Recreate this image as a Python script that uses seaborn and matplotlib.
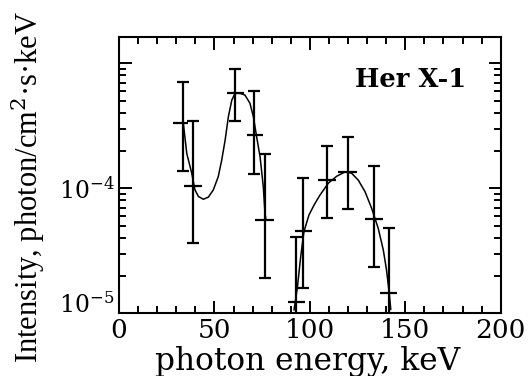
import numpy as np
import pandas as pd
import matplotlib
matplotlib.use("Agg")
import matplotlib.pyplot as plt
import seaborn as sns
from matplotlib.ticker import FixedLocator, MultipleLocator, LogLocator, NullFormatter

# ---- data ----
energy = [33.4, 38.6, 60.8, 70.7, 76.5, 92.7, 96.4, 109.0, 119.8, 133.5, 141.3]
e_lo = [28.5, 34.1, 56.4, 66.9, 71.3, 88.3, 92.0, 104.3, 114.5, 128.8, 136.6]
e_hi = [36.3, 43.3, 65.5, 75.6, 81.3, 97.6, 101.1, 113.9, 124.7, 138.2, 145.7]
intensity = [3.35e-4, 1.04e-4, 5.82e-4, 2.67e-4, 5.57e-5, 1.22e-5, 4.55e-5, 1.165e-4, 1.34e-4, 5.68e-5, 1.445e-5]
i_hi = [7.13e-4, 3.47e-4, 8.95e-4, 6.04e-4, 1.87e-4, 4.1e-5, 1.2e-4, 2.19e-4, 2.56e-4, 1.52e-4, 4.84e-5]
i_lo = [1.38e-4, 3.63e-5, 3.47e-4, 1.3e-4, 1.93e-5, 5e-6, 1.58e-5, 5.75e-5, 6.79e-5, 2.36e-5, 5e-6]

model1_e = [33.7, 35.5, 38.1, 39.8, 41.6, 44.2, 46.8, 49.4, 52.0, 53.8, 55.6, 57.3, 59.1,
            60.8, 63.4, 66.0, 68.6, 70.4, 72.1, 73.9, 75.6, 76.5, 77.0]
model1_i = [3.31e-4, 1.9e-4, 1.32e-4, 9.7e-5, 8.6e-5, 8.17e-5, 8.5e-5, 9.7e-5, 1.24e-4, 1.68e-4,
            2.43e-4, 3.74e-4, 5.08e-4, 5.75e-4, 5.75e-4, 5.57e-4, 4.79e-4, 3.74e-4, 2.59e-4,
            1.79e-4, 1.03e-4, 6.3e-5, 5.6e-5]
model2_e = [91.7, 93.5, 95.2, 96.9, 99.5, 102.2, 105.3, 109.7, 114.1, 118.4, 121.9, 125.4, 128.9, 132.4, 135.8, 138.5, 140.2, 141.6, 142.4]
model2_i = [1.06e-5, 1.63e-5, 2.84e-5, 4.5e-5, 6.1e-5, 7.35e-5, 8.83e-5, 1.1e-4, 1.25e-4, 1.35e-4, 1.32e-4, 1.16e-4, 9.4e-5, 6.9e-5, 4.8e-5, 3.2e-5, 2.2e-5, 1.45e-5, 1.07e-5]

x_ticks = [0, 50, 100, 150, 200]
y_ticks = [1e-5, 1e-4, 1e-3]
y_ticklabels = [r"$10^{-5}$", r"$10^{-4}$", ""]

sns.set_theme(style="ticks")
plt.rcParams["font.family"] = ["DejaVu Serif"]
plt.rcParams["mathtext.fontset"] = "dejavuserif"
plt.rcParams["text.color"] = "black"
plt.rcParams["axes.labelcolor"] = "black"
plt.rcParams["xtick.color"] = "black"
plt.rcParams["ytick.color"] = "black"

fig = plt.figure(figsize=(5.29, 3.76), dpi=100)
ax = fig.add_axes([0.225, 0.1668, 0.7215, 0.7356])

df1 = pd.DataFrame({"e": model1_e, "i": model1_i})
df2 = pd.DataFrame({"e": model2_e, "i": model2_i})
sns.lineplot(data=df1, x="e", y="i", ax=ax, color="black", lw=1.1, sort=False)
sns.lineplot(data=df2, x="e", y="i", ax=ax, color="black", lw=1.1, sort=False)

e = np.array(energy)
it = np.array(intensity)
yerr = [it - np.array(i_lo), np.array(i_hi) - it]
xerr = [e - np.array(e_lo), np.array(e_hi) - e]
ax.errorbar(e, it, yerr=yerr, fmt="none", ecolor="black", elinewidth=1.6,
            capsize=4, capthick=1.6)
ax.errorbar(e, it, xerr=xerr, fmt="none", ecolor="black", elinewidth=1.6, capsize=0)

ax.set_yscale("log")
ax.set_xlim(0, 200)
ax.set_ylim(1e-5, 1.633e-3)

ax.xaxis.set_major_locator(FixedLocator(x_ticks))
ax.xaxis.set_minor_locator(MultipleLocator(10))
ax.set_xticklabels([str(t) for t in x_ticks])
ax.yaxis.set_major_locator(FixedLocator(y_ticks))
ax.yaxis.set_minor_locator(LogLocator(base=10, subs=np.arange(2, 10)))
ax.yaxis.set_minor_formatter(NullFormatter())
ax.set_yticklabels(y_ticklabels)

ax.tick_params(which="both", direction="in", top=True, right=True,
               colors="black", labelcolor="black", width=1.4)
ax.tick_params(which="major", length=9)
ax.tick_params(which="minor", length=5)
ax.tick_params(axis="x", labelsize=19, pad=3.5)
ax.tick_params(axis="y", labelsize=17, pad=3)
ylabs = ax.get_yticklabels()
ylabs[0].set_verticalalignment("baseline")
for s in ax.spines.values():
    s.set_linewidth(1.5)
    s.set_color("black")

ax.set_xlabel("photon energy, keV", fontsize=22.5, color="black")
ax.xaxis.set_label_coords(0.495, -0.118)
ax.set_ylabel("Intensity, photon/cm$^2$·s·keV", fontsize=22, color="black",
              family=["Liberation Serif", "DejaVu Serif"])
ax.yaxis.set_label_coords(-0.19, 0.457)

ax.text(0.911, 0.819, "Her X-1", transform=ax.transAxes, ha="right", va="baseline",
        fontsize=18.5, fontweight="bold", color="black")

fig.savefig("out.png", dpi=100)
